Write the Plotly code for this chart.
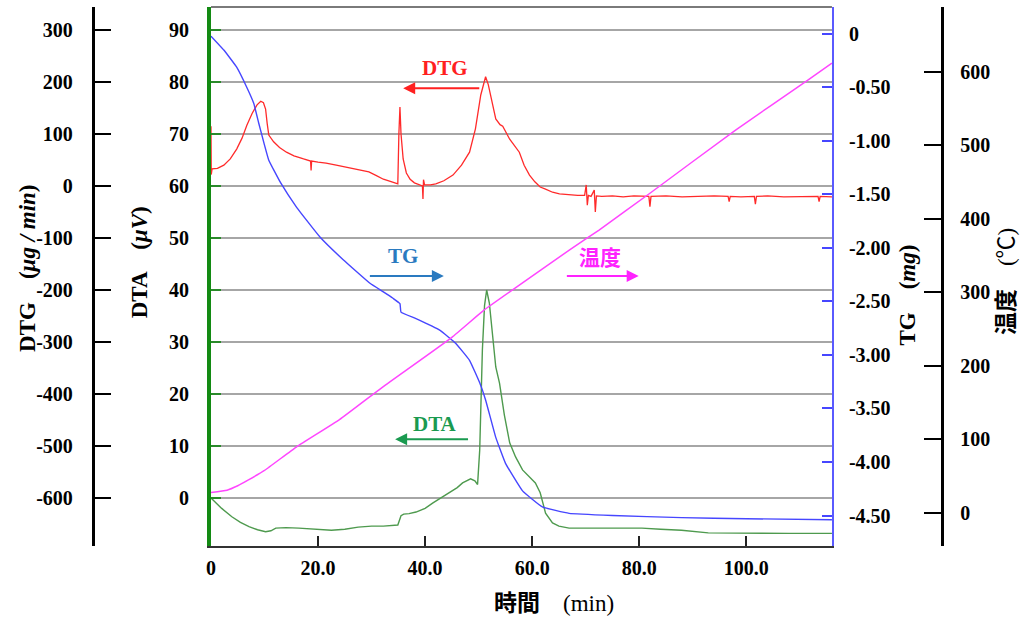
import plotly.graph_objects as go

# ---------------- data ----------------
# DTA (µV) vs time (min)
dta_t = [0, 2.0, 3.9, 5.5, 7.1, 8.7, 10.2, 11.2, 12.1, 14.0, 16.4, 19.5, 22.5, 25.0, 27.5, 30.0, 32.2,
         34.9, 35.5, 36.0, 37.0, 38.3, 40.0, 41.4, 43.0, 44.6, 46.0, 47.0, 48.5, 49.3, 49.8, 50.2,
         50.7, 51.1, 51.5, 52.0, 52.6, 53.2, 53.9, 54.8, 55.8, 56.9, 58.2, 59.5, 60.6, 61.5, 62.5,
         63.8, 65.0, 66.9, 70.6, 75.0, 80.5, 84.0, 87.9, 92.9, 100.0, 108.0, 116.0]
dta_v = [0.0, -2.0, -3.6, -4.7, -5.5, -6.1, -6.5, -6.3, -5.8, -5.7, -5.8, -6.0, -6.2, -6.0, -5.6, -5.4, -5.4,
         -5.2, -3.4, -3.1, -3.0, -2.7, -2.0, -1.0, 0.0, 1.0, 2.0, 2.9, 3.7, 3.3, 2.6, 9.2,
         28.5, 37.0, 40.0, 37.5, 31.7, 25.2, 22.1, 16.0, 10.6, 7.9, 5.4, 4.0, 2.9, 1.0, -2.9,
         -4.8, -5.4, -5.8, -5.8, -5.7, -5.8, -6.0, -6.2, -6.7, -6.8, -6.8, -6.8]

# DTG (µg/min) vs time (min)
dtg_t = [0, 0.05, 0.2, 1.2, 2.4, 3.6, 4.8, 5.8, 6.7, 7.7, 8.6, 9.3, 9.8, 10.2, 10.5, 10.8, 11.7,
         12.8, 14.1, 15.5, 17.3, 18.6, 18.7, 18.8, 20.0, 21.5, 23.4, 25.5, 27.9, 29.5, 30.9,
         32.2, 33.5, 34.9, 35.1, 35.3, 35.5, 35.9, 36.5, 37.2, 38.0, 39.0, 39.5, 39.6, 39.7,
         39.9, 41.0, 42.0, 43.5, 45.2, 46.8, 48.3, 49.4, 50.4, 51.3, 51.8, 52.2, 52.7, 53.2,
         54.0, 54.5, 55.8, 56.7, 57.6, 58.5, 59.5, 60.5, 61.5, 62.5, 63.8, 65.1, 67.0, 68.5,
         69.8, 70.1, 70.3, 70.5, 71.0, 71.6, 71.8, 72.0, 73.0, 75.0, 77.0, 79.0, 81.8, 82.0,
         82.2, 85.0, 88.0, 91.0, 94.0, 96.6, 96.8, 97.0, 99.0, 101.5, 101.7, 101.9, 104.0,
         107.0, 110.0, 113.4, 113.6, 113.8, 116.0]
dtg_v = [115, 22, 33, 34, 40, 52, 71, 92, 117, 140, 156, 163, 160, 148, 120, 98, 85,
         74, 65, 58, 52, 48, 30, 48, 46, 44, 40, 36, 31, 27, 20,
         13, 9, 4, 100, 152, 100, 52, 25, 13, 6, 2, 0, -25, 12,
         2, 2, 4, 10, 21, 40, 65, 110, 175, 210, 195, 175, 150, 129,
         118, 115, 90, 78, 65, 40, 21, 8, -2, -6, -12, -15, -17, -18,
         -18, 2, -37, -18, -20, -8, -50, -19, -20, -19, -21, -19, -20, -40,
         -20, -19, -21, -20, -19, -20, -30, -20, -21, -20, -35, -20, -19,
         -21, -20, -20, -30, -20, -21]

# TG (mg) vs time (min)
tg_t = [0, 2.4, 4.8, 6.7, 8.0, 8.9, 9.9, 10.8, 13.0, 16.0, 20.4, 24.7, 29.7, 32.2, 34.0,
        35.3, 35.5, 38.3, 42.8, 45.7, 48.3, 50.2, 51.3, 53.2, 55.0, 58.2, 61.9, 66.9, 75.0,
        87.9, 100.0, 116.0]
tg_v = [-0.02, -0.15, -0.31, -0.50, -0.65, -0.83, -1.02, -1.18, -1.39, -1.62, -1.90, -2.11,
        -2.33, -2.41, -2.47, -2.52, -2.60, -2.66, -2.77, -2.89, -3.05, -3.26, -3.42, -3.77,
        -4.01, -4.27, -4.42, -4.48, -4.50, -4.52, -4.53, -4.54]

# Temperature (°C) vs time (min)
temp_t = [0, 3, 5, 7, 10, 16, 24, 32, 45, 51, 57, 67, 72.5, 82, 98, 111.5, 116]
temp_v = [28, 31, 37, 45, 58, 90, 127, 171, 239, 276, 307, 358, 385, 435, 521, 589, 612]

x_ticks = [0, 20, 40, 60, 80, 100]
x_ticktext = ["0", "20.0", "40.0", "60.0", "80.0", "100.0"]
dta_ticks = [0, 10, 20, 30, 40, 50, 60, 70, 80, 90]
dtg_ticks = [-600, -500, -400, -300, -200, -100, 0, 100, 200, 300]
dtg_ticktext = ["-600", "-500", "-400", "-300", "-200", "-100", "0", "100", "200", "300"]
tg_ticks = [0, -0.5, -1.0, -1.5, -2.0, -2.5, -3.0, -3.5, -4.0, -4.5]
tg_ticktext = ["0", "-0.50", "-1.00", "-1.50", "-2.00", "-2.50", "-3.00", "-3.50", "-4.00", "-4.50"]
temp_ticks = [0, 100, 200, 300, 400, 500, 600]

# ---------------- styling ----------------
W, H = 1022, 621
L_PX, R_PX, T_PX, B_PX = 207, 831, 7, 546
FONT = "Liberation Serif, Times New Roman, Noto Sans CJK JP, serif"
TICKFONT = dict(family=FONT, size=20, color="black", weight="bold")

C_RED = "#ff2a2a"
C_BLUE = "#4646ff"
C_MAG = "#ff46ff"
C_GREEN = "#4e9a4e"

fig = go.Figure()
fig.add_trace(go.Scatter(x=dta_t, y=dta_v, mode="lines", yaxis="y",
                         line=dict(color=C_GREEN, width=1.4), showlegend=False))
fig.add_trace(go.Scatter(x=temp_t, y=temp_v, mode="lines", yaxis="y4",
                         line=dict(color=C_MAG, width=1.5, shape="spline", smoothing=0.4),
                         showlegend=False))
fig.add_trace(go.Scatter(x=tg_t, y=tg_v, mode="lines", yaxis="y3",
                         line=dict(color=C_BLUE, width=1.4, shape="spline", smoothing=0.3),
                         showlegend=False))
fig.add_trace(go.Scatter(x=dtg_t, y=dtg_v, mode="lines", yaxis="y2",
                         line=dict(color=C_RED, width=1.3), showlegend=False))

xd0, xd1 = L_PX / W, R_PX / W

fig.update_layout(
    width=W, height=H,
    margin=dict(l=0, r=0, t=T_PX, b=H - B_PX, pad=0),
    paper_bgcolor="white", plot_bgcolor="white",
    xaxis=dict(domain=[xd0, xd1], range=[0, 116], tickvals=x_ticks, ticktext=x_ticktext,
               ticks="inside", ticklen=10, tickwidth=2, tickcolor="#222",
               showline=True, linecolor="#333", linewidth=2, showgrid=False, zeroline=False,
               tickfont=TICKFONT, ticklabelstandoff=3),
    yaxis=dict(range=[-9.23, 94.42], tickvals=dta_ticks, side="left", anchor="x",
               ticks="inside", ticklen=10, tickwidth=2, tickcolor="#2a8a2a",
               showline=True, linecolor="#138a13", linewidth=4,
               showgrid=True, gridcolor="#a6a6a6", gridwidth=2, zeroline=False,
               tickfont=TICKFONT, ticklabelstandoff=14),
    yaxis2=dict(range=[-692.3, 344.2], tickvals=dtg_ticks, ticktext=dtg_ticktext,
                overlaying="y", anchor="free", position=88 / W, side="left",
                ticks="inside", ticklen=17, tickwidth=2, tickcolor="black",
                showline=True, linecolor="black", linewidth=2.5, showgrid=False, zeroline=False,
                tickfont=TICKFONT, ticklabelstandoff=15),
    yaxis3=dict(range=[-4.785, 0.252], tickvals=tg_ticks, ticktext=tg_ticktext,
                overlaying="y", anchor="x", side="right",
                ticks="inside", ticklen=10, tickwidth=2, tickcolor=C_BLUE,
                showline=True, linecolor="#5a5aff", linewidth=2, showgrid=False, zeroline=False,
                tickfont=TICKFONT, ticklabelstandoff=11),
    yaxis4=dict(range=[-44.9, 688.4], tickvals=temp_ticks, overlaying="y", anchor="free",
                position=942 / W, side="right",
                ticks="inside", ticklen=18, tickwidth=2, tickcolor="black",
                showline=True, linecolor="black", linewidth=2.5, showgrid=False, zeroline=False,
                tickfont=TICKFONT, ticklabelstandoff=12),
    shapes=[dict(type="line", xref="x domain", yref="y domain", x0=0, x1=1, y0=1, y1=1,
                 line=dict(color="#7a7a7a", width=2))],
)


def py(p):
    return (B_PX - p) / (B_PX - T_PX)


title_font = dict(family=FONT, size=23, color="black")
ann = [
    dict(text="<b>DTG　(<i>μg&nbsp;/&nbsp;min</i>)</b>", x=22 / W, y=py(268), textangle=-90),
    dict(text="<b>DTA　(<i>μV</i>)</b>", x=135 / W, y=py(262), textangle=-90),
    dict(text="<b>TG　(<i>mg</i>)</b>", x=906 / W, y=py(295), textangle=-90),
    dict(text="<b>温度</b>　(℃)", x=1006 / W, y=py(282), textangle=-90),
    dict(text="<b>時間</b>　(min)", x=552 / W, y=py(603), textangle=0),
]
for a in ann:
    fig.add_annotation(xref="paper", yref="paper", showarrow=False, font=title_font,
                       xanchor="center", yanchor="middle", **a)

lab_font = dict(family=FONT, size=21)
labels = [
    ("DTG", 43.7, 82.7, "#ff2020", 50.4, 35.9, 78.8),
    ("TG", 35.9, 46.5, "#2a7ac0", 29.4, 43.5, 42.7),
    ("温度", 72.7, 46.2, "#ff22ff", 66.2, 79.9, 42.7),
    ("DTA", 41.8, 14.2, "#1a9a50", 48.3, 34.4, 11.3),
]
for txt, tx, ty, col, tail, head, ay in labels:
    fig.add_annotation(x=tx, y=ty, xref="x", yref="y", text=f"<b>{txt}</b>", showarrow=False,
                       font=dict(color=col, **lab_font))
    fig.add_annotation(x=head, y=ay, ax=tail, ay=ay, xref="x", yref="y", axref="x", ayref="y",
                       text="", showarrow=True, arrowhead=2, arrowsize=1.2, arrowwidth=2,
                       arrowcolor=col)

fig.write_html("out.html")
